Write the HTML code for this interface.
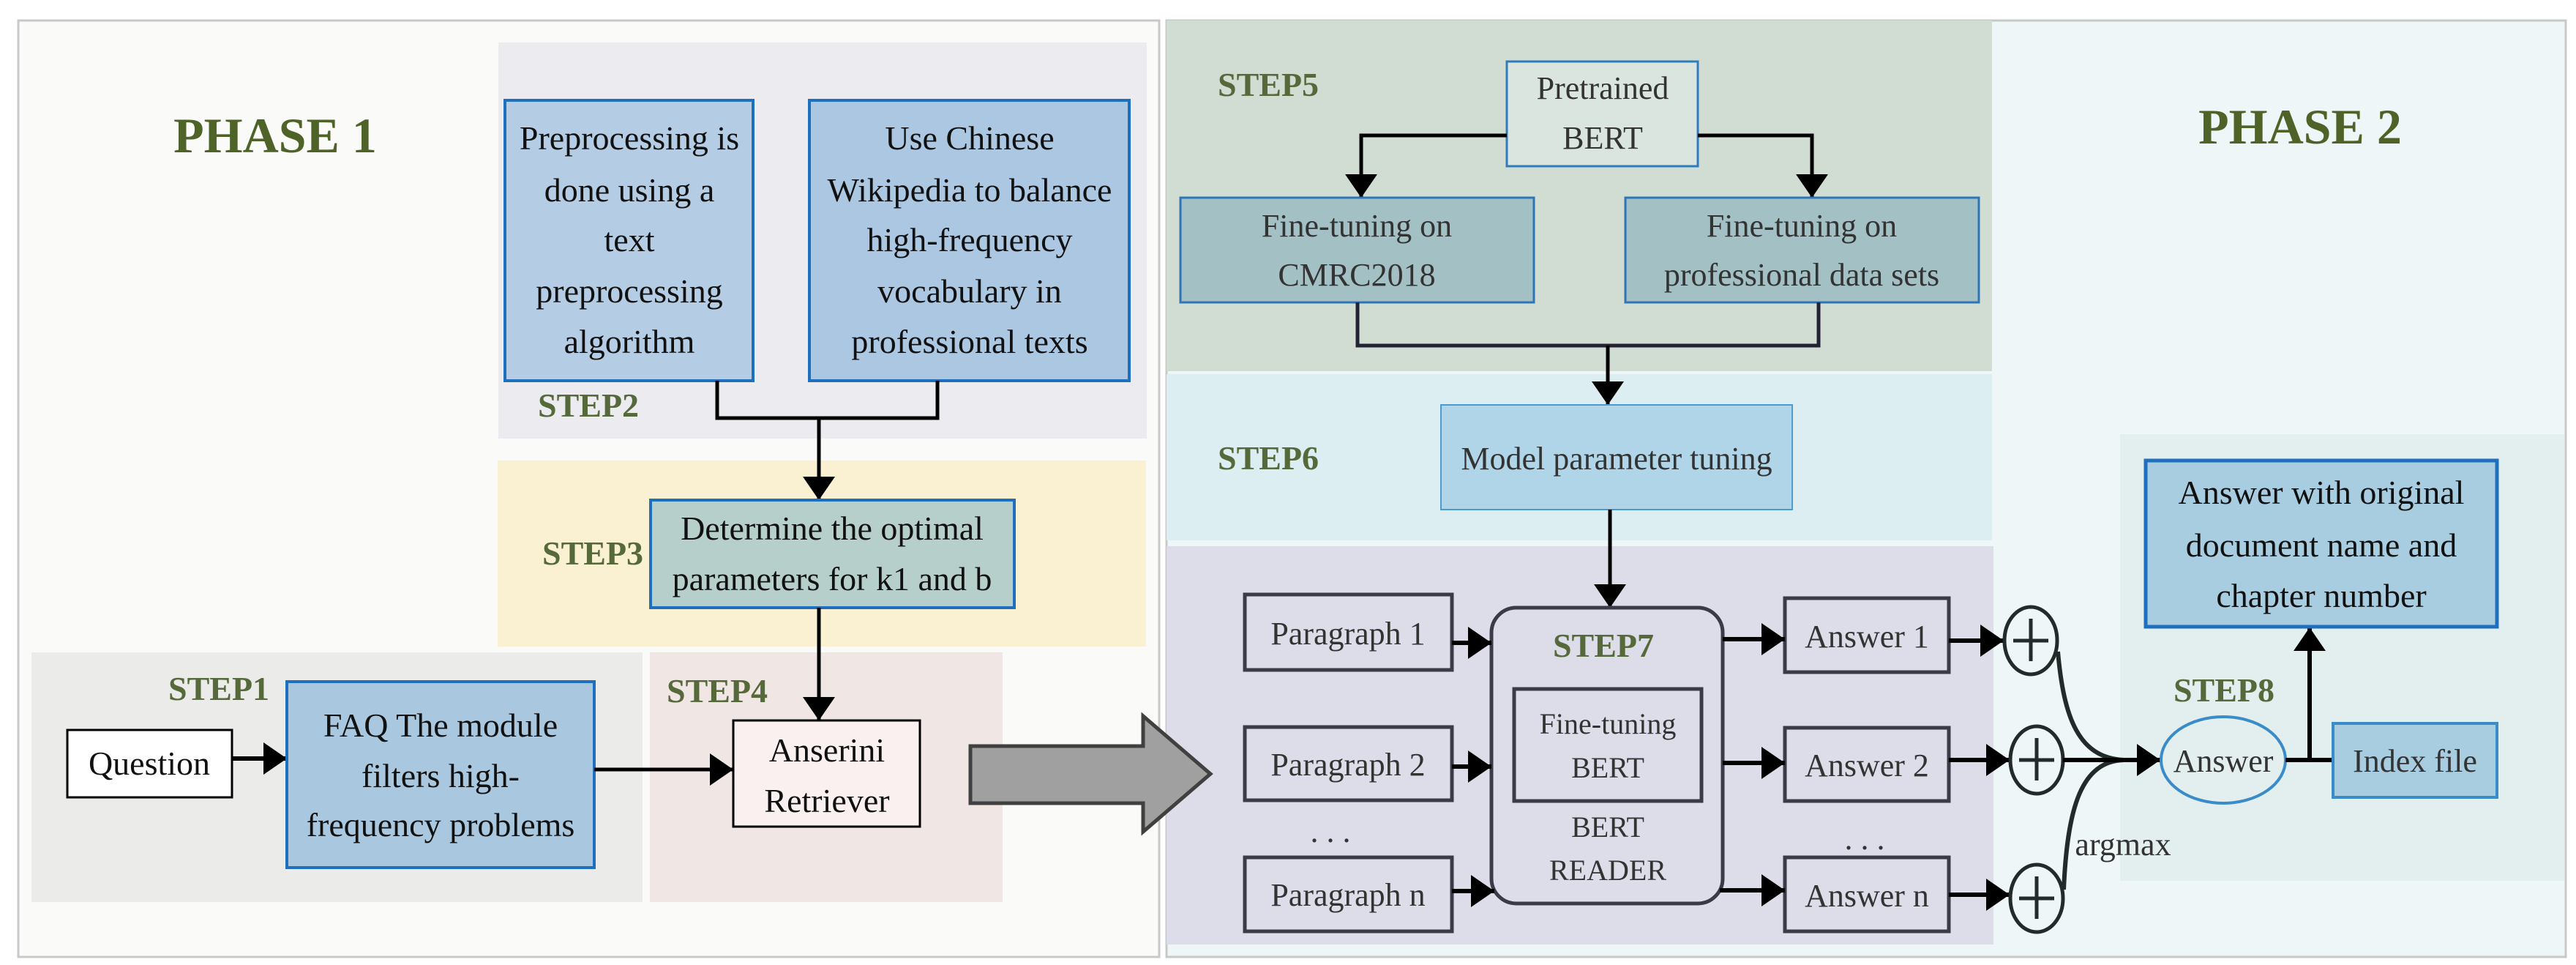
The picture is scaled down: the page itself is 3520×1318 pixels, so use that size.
<!DOCTYPE html>
<html><head><meta charset="utf-8"><style>
html,body{margin:0;padding:0;background:#fff;}
svg{display:block;}
text{font-family:"Liberation Serif",serif;}
.t{font-size:46px;fill:#111;text-anchor:middle;}
.g{font-size:44px;fill:#333;text-anchor:middle;}
.s{font-size:46px;font-weight:bold;fill:#56693a;}
.ph{font-size:68px;font-weight:bold;fill:#4f6228;text-anchor:middle;}
</style></head><body>
<svg width="3520" height="1318" viewBox="0 0 3520 1318" xmlns="http://www.w3.org/2000/svg">
<defs>
<marker id="a" markerUnits="userSpaceOnUse" markerWidth="34" markerHeight="44" refX="32" refY="22" orient="auto"><path d="M0,0 L32,22 L0,44 Z" fill="#000"/></marker>
</defs>
<!-- left panel -->
<rect x="25" y="28" width="1559" height="1279" fill="#fafaf8" stroke="#c8c8c8" stroke-width="3"/>
<text class="ph" x="376" y="208">PHASE 1</text>
<rect x="681" y="58" width="886" height="541" fill="#ecebf0"/>
<rect x="680" y="629" width="886" height="254" fill="#faf0d2"/>
<rect x="43" y="891" width="835" height="341" fill="#ebebea"/>
<rect x="888" y="891" width="482" height="341" fill="#f0e6e4"/>
<!-- step2 boxes -->
<rect x="690" y="137" width="339" height="383" fill="#b4cce4" stroke="#1f6fbf" stroke-width="4"/>
<text class="t" x="860" y="204">Preprocessing is</text>
<text class="t" x="860" y="275">done using a</text>
<text class="t" x="860" y="343">text</text>
<text class="t" x="860" y="413">preprocessing</text>
<text class="t" x="860" y="482">algorithm</text>
<rect x="1106" y="137" width="437" height="383" fill="#abc7e1" stroke="#1f6fbf" stroke-width="4"/>
<text class="t" x="1325" y="204">Use Chinese</text>
<text class="t" x="1325" y="275">Wikipedia to balance</text>
<text class="t" x="1325" y="343">high-frequency</text>
<text class="t" x="1325" y="413">vocabulary in</text>
<text class="t" x="1325" y="482">professional texts</text>
<text class="s" x="735" y="569">STEP2</text>
<path d="M980,520 V571 H1281 V520" fill="none" stroke="#000" stroke-width="5"/>
<line x1="1119" y1="571" x2="1119" y2="683" stroke="#000" stroke-width="5" marker-end="url(#a)"/>
<!-- step3 -->
<rect x="889" y="683" width="497" height="147" fill="#b7cfca" stroke="#1f6fbf" stroke-width="4"/>
<text class="t" x="1137" y="737">Determine the optimal</text>
<text class="t" x="1137" y="806">parameters for k1 and b</text>
<text class="s" x="741" y="771">STEP3</text>
<line x1="1119" y1="830" x2="1119" y2="984" stroke="#000" stroke-width="5" marker-end="url(#a)"/>
<!-- step1/4 -->
<text class="s" x="230" y="956">STEP1</text>
<text class="s" x="911" y="959">STEP4</text>
<rect x="92" y="997" width="225" height="92" fill="#fff" stroke="#000" stroke-width="3"/>
<text class="t" x="204" y="1058">Question</text>
<line x1="317" y1="1036" x2="392" y2="1036" stroke="#000" stroke-width="6" marker-end="url(#a)"/>
<rect x="392" y="931" width="420" height="254" fill="#a9c8df" stroke="#1f6fbf" stroke-width="4"/>
<text class="t" x="602" y="1006">FAQ The module</text>
<text class="t" x="602" y="1075">filters high-</text>
<text class="t" x="602" y="1142">frequency problems</text>
<line x1="812" y1="1051" x2="1002" y2="1051" stroke="#000" stroke-width="5" marker-end="url(#a)"/>
<rect x="1002" y="984" width="255" height="145" fill="#faf0f0" stroke="#000" stroke-width="3"/>
<text class="t" x="1130" y="1040">Anserini</text>
<text class="t" x="1130" y="1109">Retriever</text>
<!-- right panel -->
<rect x="1594" y="28" width="1912" height="1279" fill="#eef6f8" stroke="#c8c8c8" stroke-width="3"/>
<rect x="1594" y="28" width="1128" height="479" fill="#d1dcd3"/>
<rect x="1594" y="511" width="1128" height="227" fill="#ddeef2"/>
<rect x="1594" y="746" width="1130" height="544" fill="#dcdde8"/>
<rect x="2897" y="593" width="607" height="610" fill="#e3eeee"/>
<text class="ph" x="3143" y="196">PHASE 2</text>
<text class="s" x="1664" y="131">STEP5</text>
<text class="s" x="1664" y="641">STEP6</text>
<!-- step5 -->
<rect x="2059" y="84" width="261" height="143" fill="#dbe5df" stroke="#2e7bbd" stroke-width="3"/>
<text class="g" x="2190" y="135">Pretrained</text>
<text class="g" x="2190" y="203">BERT</text>
<path d="M2059,185 H1860 V270" fill="none" stroke="#000" stroke-width="5" marker-end="url(#a)"/>
<path d="M2320,185 H2476 V270" fill="none" stroke="#000" stroke-width="5" marker-end="url(#a)"/>
<rect x="1613" y="270" width="483" height="143" fill="#a3c0c5" stroke="#2e75b6" stroke-width="3"/>
<text class="g" x="1854" y="323">Fine-tuning on</text>
<text class="g" x="1854" y="390">CMRC2018</text>
<rect x="2221" y="270" width="483" height="143" fill="#a3c0c5" stroke="#2e75b6" stroke-width="3"/>
<text class="g" x="2462" y="323">Fine-tuning on</text>
<text class="g" x="2462" y="390">professional data sets</text>
<path d="M1855,413 V472 H2485 V413" fill="none" stroke="#223" stroke-width="5"/>
<line x1="2197" y1="472" x2="2197" y2="553" stroke="#000" stroke-width="5" marker-end="url(#a)"/>
<!-- step6 -->
<rect x="1969" y="553" width="480" height="143" fill="#b1d5e8" stroke="#4b9bd1" stroke-width="2"/>
<text class="g" x="2209" y="641">Model parameter tuning</text>
<line x1="2200" y1="696" x2="2200" y2="830" stroke="#000" stroke-width="5" marker-end="url(#a)"/>
<!-- step7 -->
<g stroke="#3a3a48" stroke-width="5" fill="#dcdde8">
<rect x="1701" y="812" width="283" height="103"/>
<rect x="1701" y="993" width="283" height="100"/>
<rect x="1701" y="1171" width="283" height="101"/>
<rect x="2038" y="830" width="316" height="404" rx="34"/>
<rect x="2069" y="941" width="256" height="153"/>
<rect x="2439" y="817" width="224" height="101"/>
<rect x="2439" y="994" width="224" height="100"/>
<rect x="2439" y="1171" width="224" height="101"/>
</g>
<text class="g" x="1842" y="880">Paragraph 1</text>
<text class="g" x="1842" y="1059">Paragraph 2</text>
<text class="g" x="1842" y="1237">Paragraph n</text>
<text class="g" x="1818" y="1150">. . .</text>
<text class="g" x="2548" y="1160">. . .</text>
<text class="s" x="2191" y="897" text-anchor="middle">STEP7</text>
<text class="g" x="2197" y="1002" style="font-size:40px">Fine-tuning</text>
<text class="g" x="2197" y="1062" style="font-size:40px">BERT</text>
<text class="g" x="2197" y="1143" style="font-size:40px">BERT</text>
<text class="g" x="2197" y="1202" style="font-size:40px">READER</text>
<text class="g" x="2551" y="884">Answer 1</text>
<text class="g" x="2551" y="1060">Answer 2</text>
<text class="g" x="2551" y="1238">Answer n</text>
<g stroke="#000" stroke-width="6">
<line x1="1984" y1="878" x2="2038" y2="878" marker-end="url(#a)"/>
<line x1="1984" y1="1047" x2="2038" y2="1047" marker-end="url(#a)"/>
<line x1="1984" y1="1217" x2="2042" y2="1217" marker-end="url(#a)"/>
<line x1="2354" y1="873" x2="2439" y2="873" marker-end="url(#a)"/>
<line x1="2354" y1="1042" x2="2439" y2="1042" marker-end="url(#a)"/>
<line x1="2350" y1="1216" x2="2439" y2="1216" marker-end="url(#a)"/>
<line x1="2663" y1="875" x2="2738" y2="875" marker-end="url(#a)"/>
<line x1="2663" y1="1038" x2="2746" y2="1038" marker-end="url(#a)"/>
<line x1="2663" y1="1222" x2="2746" y2="1222" marker-end="url(#a)"/>
</g>
<!-- plus circles -->
<g stroke="#222a2a" stroke-width="5" fill="none">
<ellipse cx="2775" cy="875" rx="36" ry="46"/>
<line x1="2751" y1="875" x2="2799" y2="875"/><line x1="2775" y1="845" x2="2775" y2="903"/>
<ellipse cx="2783" cy="1038" rx="36" ry="46"/>
<line x1="2759" y1="1038" x2="2807" y2="1038"/><line x1="2783" y1="1008" x2="2783" y2="1066"/>
<ellipse cx="2783" cy="1227" rx="36" ry="46"/>
<line x1="2759" y1="1227" x2="2807" y2="1227"/><line x1="2783" y1="1197" x2="2783" y2="1255"/>
<path d="M2812,890 C2820,980 2840,1035 2902,1038" stroke-width="6"/>
<path d="M2820,1215 C2825,1100 2845,1040 2902,1038" stroke-width="6"/>
</g>
<line x1="2819" y1="1038" x2="2952" y2="1038" stroke="#000" stroke-width="6" marker-end="url(#a)"/>
<!-- step8 -->
<text class="s" x="3039" y="958" text-anchor="middle">STEP8</text>
<ellipse cx="3038" cy="1038" rx="85" ry="59" fill="#e3eeee" stroke="#3a8cc8" stroke-width="4"/>
<text class="g" x="3038" y="1054">Answer</text>
<text class="g" x="2901" y="1168" text-anchor="start">argmax</text>
<line x1="3123" y1="1038" x2="3188" y2="1038" stroke="#000" stroke-width="6"/>
<line x1="3156" y1="1038" x2="3156" y2="857" stroke="#000" stroke-width="6" marker-end="url(#a)"/>
<rect x="3188" y="988" width="224" height="101" fill="#a9cde0" stroke="#3a8cc8" stroke-width="4"/>
<text class="g" x="3300" y="1054">Index file</text>
<rect x="2932" y="629" width="480" height="227" fill="#a9cde0" stroke="#1f6fbf" stroke-width="5"/>
<text class="t" x="3172" y="688">Answer with original</text>
<text class="t" x="3172" y="760">document name and</text>
<text class="t" x="3172" y="829">chapter number</text>
<!-- big arrow (on top) -->
<path d="M1326,1019 H1562 V978 L1654,1057 L1562,1136 V1097 H1326 Z" fill="#a0a0a0" stroke="#404040" stroke-width="5" stroke-linejoin="miter"/>
</svg>
</body></html>
